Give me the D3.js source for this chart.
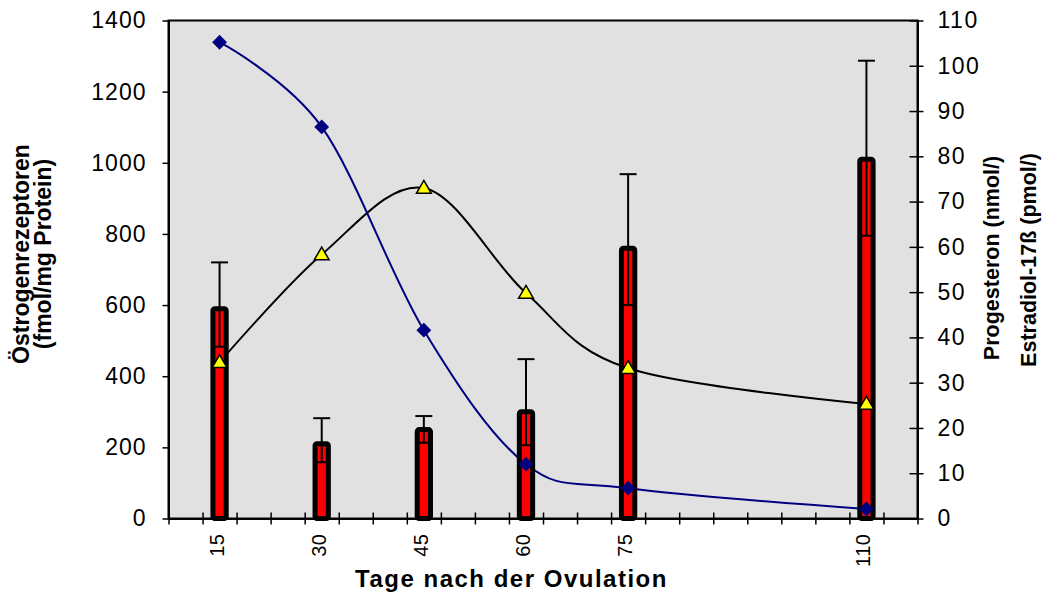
<!DOCTYPE html>
<html>
<head>
<meta charset="utf-8">
<script src="https://cdn.jsdelivr.net/npm/d3@7"></script>
<style>
  body { margin: 0; background: #fff; }
  text { font-family: "Liberation Sans", Arial, sans-serif; }
</style>
</head>
<body>
<svg id="chart" width="1050" height="595"></svg>
<script>
// days after ovulation
const days = [15, 30, 45, 60, 75, 110];
// estrogen receptors (fmol/mg protein), left axis
const receptor = [590, 210, 250, 300, 760, 1010];
const errUp = [130, 72, 38, 148, 208, 277];
const errDown = [107, 52, 37, 94, 160, 215];
// right axis series
const progesteron = [34.5, 58.3, 73.0, 49.8, 33.2, 25.3];
const estradiol = [105.2, 86.5, 41.6, 12.0, 6.7, 2.1];

const leftTicks = [0, 200, 400, 600, 800, 1000, 1200, 1400];
const rightTicks = [0, 10, 20, 30, 40, 50, 60, 70, 80, 90, 100, 110];
const dayTicks = d3.range(7.5, 118, 5);

const svg = d3.select("#chart");
const pLeft = 168.5, pRight = 917.5, pTop = 20.5, pBottom = 518.5;

const x = d3.scaleLinear().domain([7.5, 117.5]).range([pLeft, pRight]);
const yL = d3.scaleLinear().domain([0, 1400]).range([pBottom, pTop]);
const yR = d3.scaleLinear().domain([0, 110]).range([pBottom, pTop]);

// plot area
svg.append("rect")
  .attr("x", pLeft).attr("y", pTop)
  .attr("width", pRight - pLeft).attr("height", pBottom - pTop)
  .attr("fill", "#e1e1e1")
  .attr("stroke", "#000")
  .attr("stroke-width", 2);

// smoothed lines (behind the columns)
const lineR = d3.line()
  .x((d, i) => x(days[i]))
  .y(d => yR(d))
  .curve(d3.curveCatmullRom.alpha(0));

svg.append("path")
  .datum(progesteron)
  .attr("d", lineR)
  .attr("fill", "none")
  .attr("stroke", "#000")
  .attr("stroke-width", 2);

svg.append("path")
  .datum(estradiol)
  .attr("d", lineR)
  .attr("fill", "none")
  .attr("stroke", "#000080")
  .attr("stroke-width", 2);

// columns
const barW = 13.3;
svg.append("g")
  .selectAll("rect")
  .data(receptor)
  .join("rect")
  .attr("x", (d, i) => x(days[i]) - barW / 2)
  .attr("y", d => yL(d))
  .attr("width", barW)
  .attr("height", d => pBottom - yL(d))
  .attr("rx", 2)
  .attr("fill", "#ff0000")
  .attr("stroke", "#000")
  .attr("stroke-width", 5);

// error bars
const eb = svg.append("g").attr("stroke", "#000").attr("stroke-width", 2);
receptor.forEach((v, i) => {
  const cx = x(days[i]);
  const y1 = yL(v + errUp[i]), y2 = yL(v - errDown[i]);
  eb.append("line").attr("x1", cx).attr("x2", cx).attr("y1", y1).attr("y2", y2);
  eb.append("line").attr("x1", cx - 8.5).attr("x2", cx + 8.5).attr("y1", y1).attr("y2", y1);
  eb.append("line").attr("x1", cx - 5).attr("x2", cx + 5).attr("y1", y2).attr("y2", y2);
});

// markers
svg.append("g")
  .selectAll("path")
  .data(estradiol)
  .join("path")
  .attr("d", d3.symbol(d3.symbolSquare, 110))
  .attr("transform", (d, i) => `translate(${x(days[i])},${yR(d)}) rotate(45)`)
  .attr("fill", "#000080");

svg.append("g")
  .selectAll("path")
  .data(progesteron)
  .join("path")
  .attr("d", d3.symbol(d3.symbolTriangle, 95))
  .attr("transform", (d, i) => `translate(${x(days[i])},${yR(d) + 1})`)
  .attr("fill", "#ffff00")
  .attr("stroke", "#000")
  .attr("stroke-width", 1.5);

// left axis
const gL = svg.append("g")
  .attr("transform", `translate(${pLeft},0)`)
  .call(d3.axisLeft(yL).tickValues(leftTicks).tickFormat(d3.format("d"))
    .tickSize(6).tickSizeOuter(0).tickPadding(16));
gL.select(".domain").attr("stroke-width", 2);
gL.selectAll(".tick line").attr("stroke-width", 1.5);
gL.selectAll(".tick text")
  .style("font-size", "23px")
  .style("letter-spacing", "1px")
  .attr("fill", "#000");

// right axis
const gR = svg.append("g")
  .attr("transform", `translate(${pRight},0)`)
  .call(d3.axisRight(yR).tickValues(rightTicks).tickSize(6).tickSizeOuter(0).tickPadding(14));
gR.select(".domain").attr("stroke-width", 2);
gR.selectAll(".tick line").attr("x1", -8).attr("x2", 6).attr("stroke-width", 1.5);
gR.selectAll(".tick text")
  .style("font-size", "23px")
  .style("letter-spacing", "1.5px")
  .attr("fill", "#000");

// bottom axis: tick marks
const gB = svg.append("g")
  .attr("transform", `translate(0,${pBottom})`)
  .call(d3.axisBottom(x).tickValues(dayTicks).tickFormat("").tickSize(6).tickSizeOuter(0));
gB.select(".domain").attr("stroke-width", 2);
gB.selectAll(".tick line").attr("y1", -6).attr("y2", 6).attr("stroke-width", 1.5);

// bottom axis: labels
const gBL = svg.append("g")
  .attr("transform", `translate(0,${pBottom})`)
  .call(d3.axisBottom(x).tickValues(days).tickSize(0));
gBL.select(".domain").remove();
gBL.selectAll(".tick text")
  .attr("transform", "rotate(-90)")
  .attr("text-anchor", "end")
  .attr("x", -15)
  .attr("y", -3.5)
  .attr("dy", "0.35em")
  .style("font-size", "20px")
  .style("letter-spacing", "0.5px")
  .attr("fill", "#000");

// titles
svg.append("text")
  .attr("x", 511.5).attr("y", 587)
  .attr("text-anchor", "middle")
  .style("font-size", "24px")
  .style("font-weight", "bold")
  .style("letter-spacing", "1.5px")
  .text("Tage nach der Ovulation");

const ltitle = [["Östrogenrezeptoren", 28.5], ["(fmol/mg Protein)", 51]];
ltitle.forEach(([t, bx]) => {
  svg.append("text")
    .attr("transform", `translate(${bx},254) rotate(-90)`)
    .attr("text-anchor", "middle")
    .style("font-size", "23px")
    .style("font-weight", "bold")
    .text(t);
});

const rtitle = [["Progesteron (nmol/)", 998.5, 258], ["Estradiol-17ß (pmol/)", 1035.5, 260]];
rtitle.forEach(([t, bx, cy]) => {
  svg.append("text")
    .attr("transform", `translate(${bx},${cy}) rotate(-90)`)
    .attr("text-anchor", "middle")
    .style("font-size", "21.5px")
    .style("font-weight", "bold")
    .text(t);
});
</script>
</body>
</html>
